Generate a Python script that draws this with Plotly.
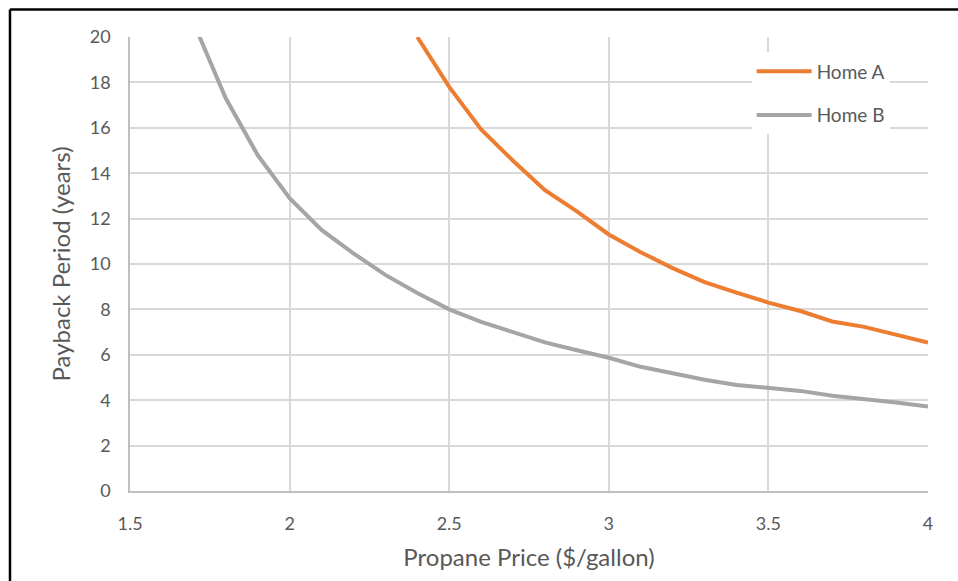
import plotly.graph_objects as go

price_b = [1.7, 1.8, 1.9, 2.0, 2.1, 2.2, 2.3, 2.4, 2.5, 2.6, 2.7, 2.8, 2.9, 3.0,
           3.1, 3.2, 3.3, 3.4, 3.5, 3.6, 3.7, 3.8, 3.9, 4.0]
home_b = [20.6, 17.3, 14.8, 12.9, 11.5, 10.47, 9.52, 8.72, 8.0, 7.45, 7.0, 6.55, 6.2, 5.87,
          5.47, 5.17, 4.9, 4.67, 4.55, 4.41, 4.2, 4.07, 3.9, 3.72]

price_a = [2.4, 2.5, 2.6, 2.7, 2.8, 2.9, 3.0, 3.1, 3.2, 3.3, 3.4, 3.5, 3.6, 3.7, 3.8, 3.9, 4.0]
home_a = [20.0, 17.8, 15.93, 14.55, 13.25, 12.32, 11.3, 10.52, 9.82, 9.2, 8.74, 8.3, 7.93, 7.47,
          7.23, 6.89, 6.54]

x_ticks = [1.5, 2, 2.5, 3, 3.5, 4]
y_ticks = [0, 2, 4, 6, 8, 10, 12, 14, 16, 18, 20]

FONT = "Lato"
TXT = "#595959"

fig = go.Figure()
fig.add_trace(go.Scatter(x=price_a, y=home_a, mode="lines", name="Home A", legendgroup="a",
                         line=dict(color="#ED7D31", width=4)))
fig.add_trace(go.Scatter(x=price_b, y=home_b, mode="lines", name="Home B", legendgroup="b",
                         line=dict(color="#A5A5A5", width=4)))

fig.update_layout(
    width=958, height=581,
    margin=dict(l=130, r=30, t=37, b=90),
    paper_bgcolor="white", plot_bgcolor="white",
    font=dict(family=FONT, color=TXT, size=17),
    showlegend=True,
    legend=dict(x=0.779, y=0.966, xanchor="left", yanchor="top",
                bgcolor="white", font=dict(size=19, color=TXT, family=FONT),
                itemwidth=55, tracegroupgap=16),
    xaxis=dict(range=[1.5, 4], tickvals=x_ticks, ticktext=[str(v) for v in x_ticks],
               showgrid=True, gridcolor="#D9D9D9", gridwidth=1.5,
               showline=True, linecolor="#BFBFBF", linewidth=1.5,
               zeroline=False, ticks="", ticklabelstandoff=16,
               tickfont=dict(size=18, color=TXT),
               title=dict(text="Propane Price ($/gallon)", font=dict(size=24, color=TXT),
                          standoff=16)),
    yaxis=dict(range=[0, 20], tickvals=y_ticks,
               showgrid=True, gridcolor="#D9D9D9", gridwidth=1.5,
               showline=True, linecolor="#BFBFBF", linewidth=1.5,
               zeroline=False, ticks="", ticklabelstandoff=14,
               tickfont=dict(size=18, color=TXT),
               title=dict(text="Payback Period (years)", font=dict(size=24, color=TXT),
                          standoff=12)),
    shapes=[
        dict(type="line", xref="paper", yref="paper", x0=-0.1504, x1=1.05,
             y0=1.0606, y1=1.0606, line=dict(color="black", width=2.5)),
        dict(type="line", xref="paper", yref="paper", x0=-0.1504, x1=-0.1504,
             y0=1.0606, y1=-0.25, line=dict(color="black", width=2.5)),
    ],
)

fig.write_html("out.html")
